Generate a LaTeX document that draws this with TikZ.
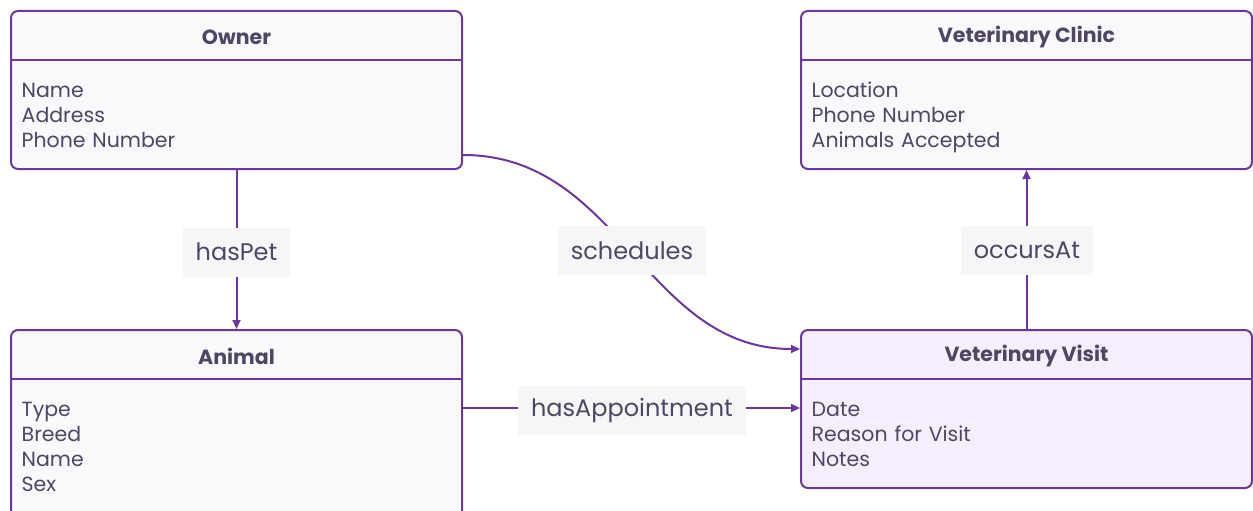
\documentclass[tikz,border=0pt]{standalone}
\usepackage{fontspec}
\setmainfont{Poppins}
\usetikzlibrary{arrows.meta}
\definecolor{edgec}{RGB}{108,55,155}
\definecolor{ink}{RGB}{78,70,98}
\definecolor{boxfill}{RGB}{249,249,252}
\definecolor{visitfill}{RGB}{246,238,253}
\definecolor{labelfill}{RGB}{246,246,249}
\tikzset{
  entity/.style={draw=edgec, line width=2pt, rounded corners=7pt, fill=boxfill,
    minimum width=451pt, inner sep=0pt},
  etitle/.style={text=ink, font=\fontsize{20.5}{24}\selectfont\bfseries, inner sep=0pt},
  eattrs/.style={text=ink, font=\fontsize{20.5}{25}\selectfont, align=left,
    text width=300pt, inner sep=0pt, anchor=base west},
  divider/.style={draw=edgec, line width=2pt},
  rel/.style={draw=edgec, line width=2pt},
  relarrow/.style={rel, -{Triangle[length=9pt,width=8pt]}},
  rlabel/.style={fill=labelfill, text=ink, font=\fontsize{24}{28}\selectfont,
    inner xsep=13pt, minimum height=49pt, inner ysep=0pt},
}
\begin{document}
\begin{tikzpicture}[x=1pt,y=1pt]
\useasboundingbox (0,0) rectangle (1253,-511);
\clip (0,0) rectangle (1253,-511);

% entities
\node[entity, minimum height=158pt] (owner) at (236.5,-90) {};
\node[entity, minimum height=158pt] (clinic) at (1026.5,-90) {};
\node[entity, minimum height=188pt] (animal) at (236.5,-424) {};
\node[entity, minimum height=158pt, fill=visitfill] (visit) at (1026.5,-409) {};

% titles and dividers
\node[etitle] (ownerT) at ([yshift=-27pt]owner.north) {Owner};
\node[etitle] (clinicT) at ([yshift=-27pt]clinic.north) {Veterinary Clinic};
\node[etitle] (animalT) at ([yshift=-27pt]animal.north) {Animal};
\node[etitle] (visitT) at ([yshift=-27pt]visit.north) {Veterinary Visit};
\foreach \e in {owner,clinic,animal,visit}{
  \draw[divider] ([yshift=-50pt]\e.north west) -- ([yshift=-50pt]\e.north east);
}

% attributes
\node[eattrs] (ownerA) at ([xshift=11.5pt,yshift=-87pt]owner.north west) {Name\\Address\\Phone Number};
\node[eattrs] (clinicA) at ([xshift=11.5pt,yshift=-87pt]clinic.north west) {Location\\Phone Number\\Animals Accepted};
\node[eattrs] (animalA) at ([xshift=11.5pt,yshift=-87pt]animal.north west) {Type\\Breed\\Name\\Sex};
\node[eattrs] (visitA) at ([xshift=11.5pt,yshift=-87pt]visit.north west) {Date\\Reason for Visit\\Notes};

% relationships
\draw[relarrow] (owner.south) -- (animal.north);
\node[rlabel] (hasPet) at (236.5,-252) {hasPet};

\draw[relarrow] ([yshift=-65pt]owner.east) .. controls (620,-155) and (645,-349) .. ([yshift=60pt]visit.west);
\node[rlabel] (schedules) at (632,-250.5) {schedules};

\draw[relarrow] ([yshift=16pt]animal.east) -- ([yshift=1pt]visit.west);
\node[rlabel] (hasAppointment) at (632,-410) {hasAppointment};

\draw[relarrow] (visit.north) -- (clinic.south);
\node[rlabel] (occursAt) at (1027,-250.5) {occursAt};
\end{tikzpicture}
\end{document}
